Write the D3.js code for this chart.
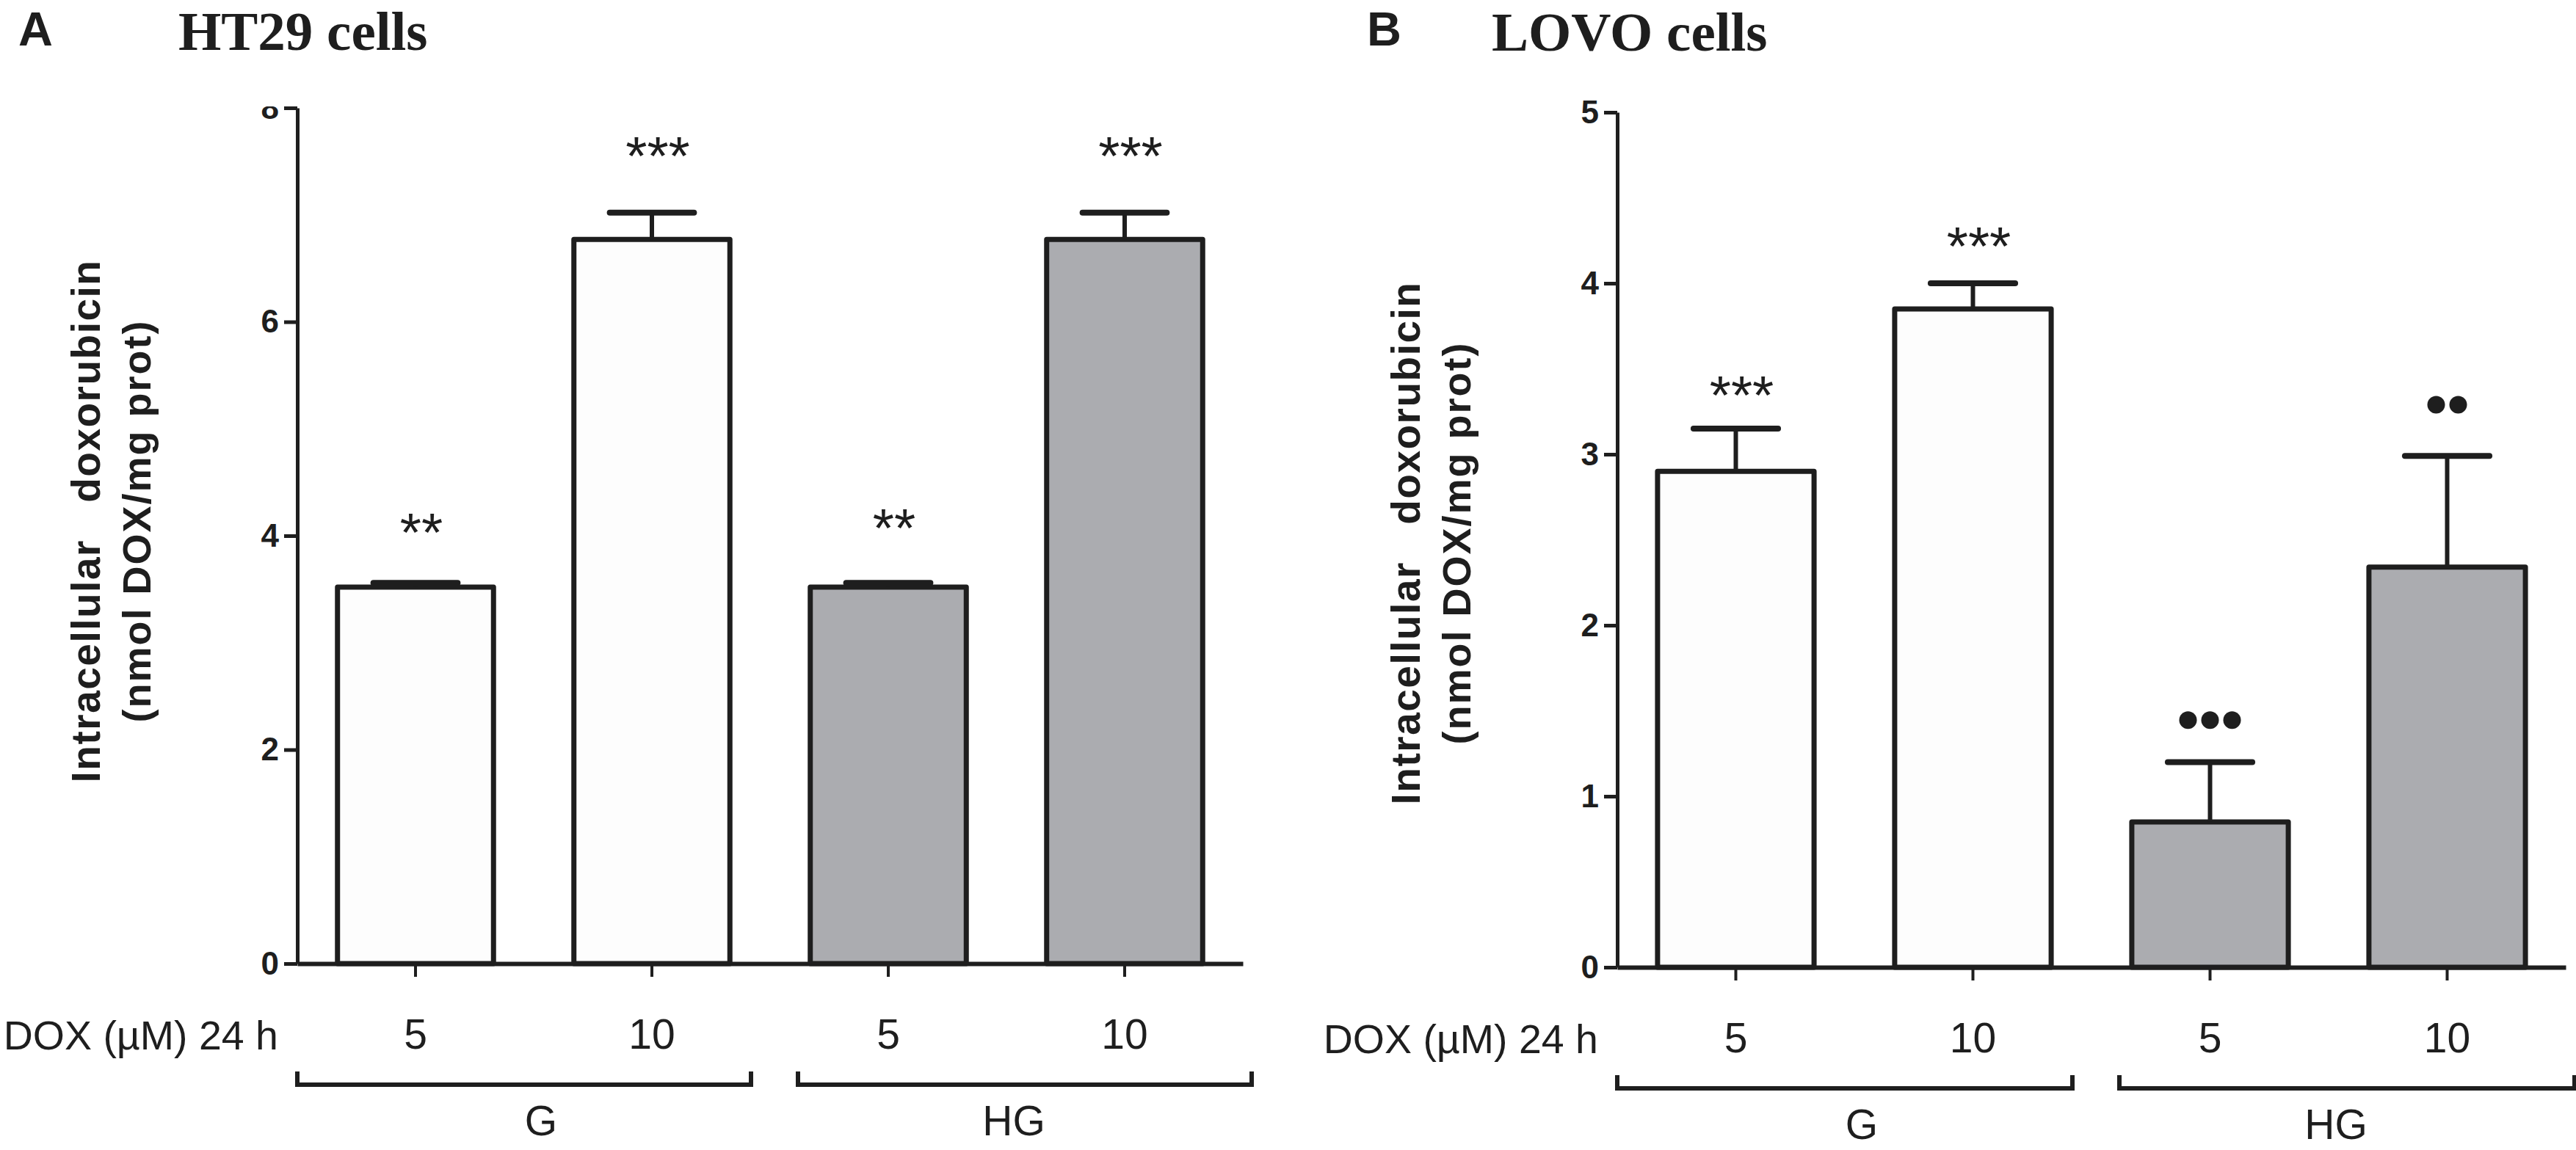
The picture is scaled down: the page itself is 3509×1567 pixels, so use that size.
<!DOCTYPE html>
<html>
<head>
<meta charset="utf-8">
<script src="https://cdn.jsdelivr.net/npm/d3@7.9.0/dist/d3.min.js"></script>
<style>
  html, body { margin: 0; padding: 0; background: #fff; }
  svg { display: block; }
  text { font-family: "Liberation Sans", Arial, sans-serif; fill: #1e1e1e; }
</style>
</head>
<body>
<div id="chart"></div>
<script>
// categories
const doses = ["5", "10", "5", "10"];
const groups = ["G", "G", "HG", "HG"];
const groupNames = ["G", "HG"];

// HT29 panel
const ht29Means = [3.52, 6.77, 3.52, 6.77];
const ht29Sem = [0.04, 0.25, 0.04, 0.25];
const ht29Marks = ["**", "***", "**", "***"];
const ht29MarkLevel = [4.15, 7.67, 4.19, 7.67];
const ht29Ticks = [0, 2, 4, 6, 8];

// LOVO panel
const lovoMeans = [2.90, 3.85, 0.85, 2.34];
const lovoSem = [0.25, 0.15, 0.35, 0.65];
const lovoMarks = ["***", "***", "●●●", "●●"];
const lovoMarkLevel = [3.42, 4.29, 1.445, 3.29];
const lovoTicks = [0, 1, 2, 3, 4, 5];

const width = 3509;
const height = 1567;
const ink = "#1e1e1e";

const svg = d3.select("#chart")
    .append("svg")
    .attr("width", width)
    .attr("height", height)
    .attr("viewBox", `0 0 ${width} ${height}`);

svg.append("rect").attr("width", width).attr("height", height).attr("fill", "#fff");

function drawPanel(p) {
    const g = svg.append("g");

    const x = d3.scaleBand()
        .domain(d3.range(p.means.length))
        .range([p.left, p.right])
        .paddingInner(0.34)
        .paddingOuter(0.17);

    const y = d3.scaleLinear()
        .domain([0, d3.max(p.ticks)])
        .range([p.bottom, p.top]);

    // panel letter and title
    g.append("text")
        .attr("x", p.letterX).attr("y", p.letterY)
        .attr("font-size", 65).attr("font-weight", "bold")
        .text(p.letter);

    g.append("text")
        .attr("x", p.titleX).attr("y", p.titleY)
        .attr("font-size", 75).attr("font-weight", "bold")
        .style("font-family", '"Liberation Serif", "Times New Roman", serif')
        .text(p.title);

    // y axis (the top label of panel A is cut in the original figure)
    if (p.clipTop) {
        svg.append("clipPath").attr("id", "clip-" + p.letter)
            .append("rect")
            .attr("x", -width).attr("y", p.clipTop)
            .attr("width", width * 2).attr("height", height);
    }

    const yAxis = g.append("g")
        .attr("transform", `translate(${p.left}, 0)`)
        .call(d3.axisLeft(y)
            .tickValues(p.ticks)
            .tickFormat(d3.format("d"))
            .tickSize(18)
            .tickSizeOuter(0)
            .tickPadding(7));

    if (p.clipTop) yAxis.attr("clip-path", `url(#clip-${p.letter})`);

    yAxis.select(".domain").attr("stroke", ink).attr("stroke-width", 5);
    yAxis.selectAll(".tick line").attr("stroke", ink).attr("stroke-width", 5);
    yAxis.selectAll(".tick text")
        .attr("font-size", 44).attr("font-weight", "bold")
        .attr("fill", ink)
        .style("font-family", '"Liberation Sans", Arial, sans-serif');

    // y axis title
    const yTitle = g.append("g")
        .attr("transform", `translate(${p.left}, ${p.labelCenter}) rotate(-90)`);
    yTitle.append("text")
        .attr("x", 0).attr("y", -269)
        .attr("text-anchor", "middle")
        .attr("font-size", 55).attr("font-weight", "bold")
        .attr("letter-spacing", 1.5)
        .style("white-space", "pre")
        .text("Intracellular   doxorubicin");
    yTitle.append("text")
        .attr("x", 0).attr("y", -200)
        .attr("text-anchor", "middle")
        .attr("font-size", 54).attr("font-weight", "bold")
        .attr("letter-spacing", 2)
        .text("(nmol DOX/mg prot)");

    // bars
    g.selectAll(".bar")
        .data(p.means)
        .join("rect")
        .attr("class", "bar")
        .attr("x", (d, i) => x(i))
        .attr("width", x.bandwidth())
        .attr("y", d => y(d))
        .attr("height", d => p.bottom - y(d))
        .attr("fill", (d, i) => groups[i] === "G" ? "#fdfdfd" : "#abacb0")
        .attr("stroke", ink)
        .attr("stroke-width", 7)
        .attr("stroke-linejoin", "round");

    // error bars (upper only)
    const capHalf = x.bandwidth() * 0.27;
    const err = g.selectAll(".err")
        .data(p.means.map((m, i) => ({ m, s: p.sem[i], i })))
        .join("g").attr("class", "err");

    err.append("line")
        .attr("x1", d => x(d.i) + x.bandwidth() / 2)
        .attr("x2", d => x(d.i) + x.bandwidth() / 2)
        .attr("y1", d => y(d.m))
        .attr("y2", d => y(d.m + d.s))
        .attr("stroke", ink).attr("stroke-width", 6);

    err.append("line")
        .attr("x1", d => x(d.i) + x.bandwidth() / 2 - capHalf)
        .attr("x2", d => x(d.i) + x.bandwidth() / 2 + capHalf)
        .attr("y1", d => y(d.m + d.s))
        .attr("y2", d => y(d.m + d.s))
        .attr("stroke", ink).attr("stroke-width", 8)
        .attr("stroke-linecap", "round");

    // x axis
    const xAxis = g.append("g")
        .attr("transform", `translate(0, ${p.bottom})`)
        .call(d3.axisBottom(x).tickSize(18).tickSizeOuter(0).tickPadding(58).tickFormat(i => doses[i]));

    xAxis.select(".domain").attr("stroke", ink).attr("stroke-width", 6);
    xAxis.selectAll(".tick line").attr("stroke", ink).attr("stroke-width", 4);
    xAxis.selectAll(".tick text")
        .attr("font-size", 57)
        .attr("fill", ink)
        .style("font-family", '"Liberation Sans", Arial, sans-serif');

    // significance marks
    p.marks.forEach((mk, i) => {
        const cx = x(i) + x.bandwidth() / 2;
        const cy = y(p.markLevel[i]);
        if (mk.includes("●")) {
            const n = mk.length;
            const gap = 30;
            g.selectAll(null)
                .data(d3.range(n))
                .join("circle")
                .attr("cx", k => cx + (k - (n - 1) / 2) * gap)
                .attr("cy", cy)
                .attr("r", 12)
                .attr("fill", ink);
        } else {
            g.append("text")
                .attr("x", cx + 8).attr("y", cy + 43)
                .attr("text-anchor", "middle")
                .attr("font-size", 75)
                .text(mk);
        }
    });

    // dose row label
    g.append("text")
        .attr("x", p.left - 26).attr("y", p.bottom + 117)
        .attr("text-anchor", "end")
        .attr("font-size", 55.5)
        .text("DOX (µM) 24 h");

    // group brackets
    const mid = (x(1) + x.bandwidth() + x(2)) / 2;
    const spans = [
        [p.left, mid - 26],
        [mid + 38, mid + 38 + (mid - 26 - p.left)]
    ];
    const by = p.bottom + 165;

    groupNames.forEach((name, k) => {
        const [x0, x1] = spans[k];
        g.append("path")
            .attr("d", `M${x0},${by - 18}V${by}H${x1}V${by - 18}`)
            .attr("fill", "none")
            .attr("stroke", ink)
            .attr("stroke-width", 6);

        const idx = groups.map((gr, i) => gr === name ? i : -1).filter(i => i >= 0);
        const gx = d3.mean(idx, i => x(i) + x.bandwidth() / 2) + 10;
        g.append("text")
            .attr("x", gx).attr("y", p.bottom + 234)
            .attr("text-anchor", "middle")
            .attr("font-size", 57)
            .text(name);
    });
}

drawPanel({
    letter: "A", letterX: 25, letterY: 62,
    title: "HT29 cells", titleX: 243, titleY: 68,
    means: ht29Means, sem: ht29Sem, marks: ht29Marks, markLevel: ht29MarkLevel,
    ticks: ht29Ticks,
    left: 405, right: 1693, top: 147, bottom: 1313,
    labelCenter: 710, clipTop: 145
});

drawPanel({
    letter: "B", letterX: 1862, letterY: 62,
    title: "LOVO cells", titleX: 2032, titleY: 69,
    means: lovoMeans, sem: lovoSem, marks: lovoMarks, markLevel: lovoMarkLevel,
    ticks: lovoTicks,
    left: 2203, right: 3495, top: 153, bottom: 1318,
    labelCenter: 740
});
</script>
</body>
</html>
